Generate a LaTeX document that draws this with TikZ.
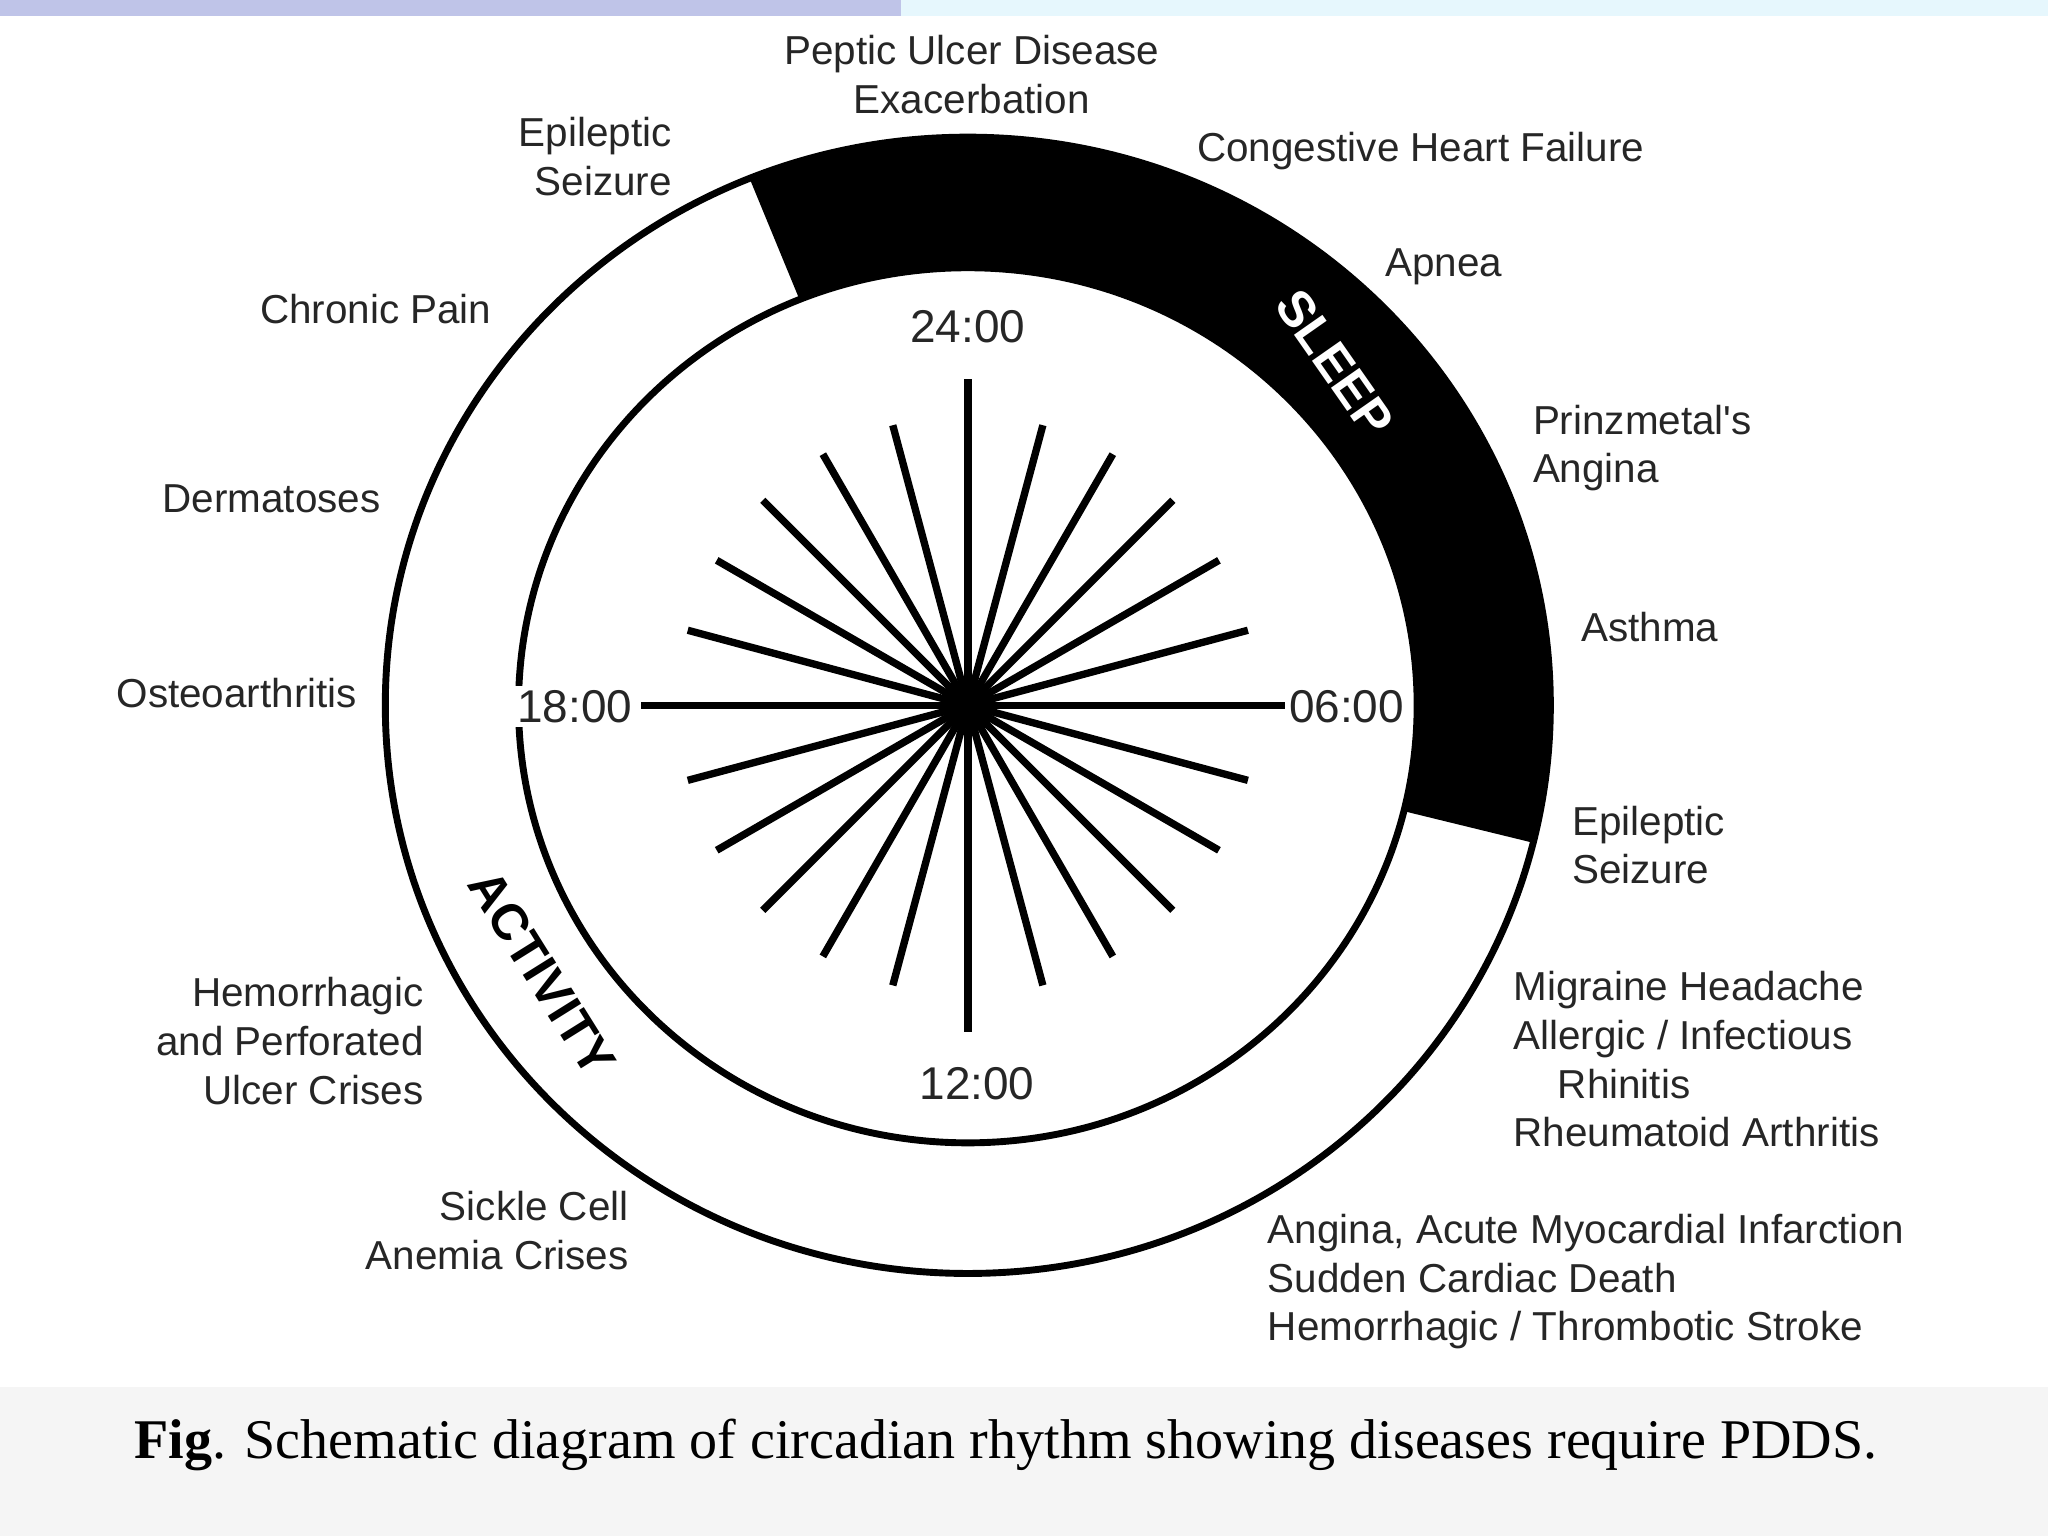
\documentclass[tikz,border=0pt]{standalone}
\usepackage{fontspec}
\usetikzlibrary{calc}
\setmainfont{Liberation Serif}
\newfontfamily\lab{Liberation Sans}
\begin{document}
\begin{tikzpicture}[x=0.01cm,y=-0.01cm,
  lbl/.style={font=\lab\fontsize{8.8}{10.6}\selectfont,text=black!85,align=center,inner sep=0pt},
  spoke/.style={line width=1.6pt},
  band/.style={font=\lab\bfseries\fontsize{11}{13}\selectfont,inner sep=0pt}]
\useasboundingbox (0,0) rectangle (1568,1176);
\fill[white] (0,0) rectangle (1568,1176);
\fill[cyan!30!blue!25] (0,0) rectangle (690,12);
\fill[cyan!10] (690,0) rectangle (1568,12);
\fill[black!4] (0,1062) rectangle (1568,1176);
\coordinate (c) at (741,540);
% black band
\fill[black] ($(c)+(-112:446 and 435)$) arc[start angle=-112,end angle=14,x radius=446,y radius=435]
  -- ($(c)+(14:344 and 335)$) arc[start angle=14,end angle=-112,x radius=344,y radius=335] -- cycle;
\draw[line width=1.5pt] (c) ellipse[x radius=446,y radius=435];
\draw[line width=1.5pt] (c) ellipse[x radius=344,y radius=335];
% spokes
\foreach \a in {0,90,180,270}{\draw[spoke] (c) -- ++(\a:-250);}
\foreach \a in {15,30,...,75,105,120,...,165,195,210,...,255,285,300,...,345}{\draw[spoke] (c) -- ++(\a:222);}
\node[lbl,fill=white,inner sep=1pt] (t24) at (741,250) {\fontsize{10}{12}\selectfont 24:00};
\node[lbl] (t12) at (748,830) {\fontsize{10}{12}\selectfont 12:00};
\node[lbl,fill=white,inner sep=1pt] (t18) at (440,541) {\fontsize{10}{12}\selectfont 18:00};
\node[lbl,fill=white,inner sep=1pt] (t06) at (1031,541) {\fontsize{10}{12}\selectfont 06:00};
\node[band,text=white,rotate=-55] (sleep) at (1022,278) {SLEEP};
\node[band,rotate=-58] (act) at (415,745) {ACTIVITY};
% labels
\node[lbl] (pud) at (744,57) {Peptic Ulcer Disease\\Exacerbation};
\node[lbl,align=right,anchor=east] (es1) at (515,120) {Epileptic\\\hspace*{1em}Seizure};
\node[lbl,anchor=west] (chf) at (916,116) {Congestive Heart Failure};
\node[lbl,anchor=west] (ap) at (1060,204) {Apnea};
\node[lbl,anchor=east] (cp) at (377,237) {Chronic Pain};
\node[lbl,align=left,anchor=west] (pa) at (1173,343) {Prinzmetal's\\Angina};
\node[lbl,anchor=east] (de) at (292,382) {Dermatoses};
\node[lbl,anchor=west] (as) at (1210,480) {Asthma};
\node[lbl,anchor=east] (oa) at (274,531) {Osteoarthritis};
\node[lbl,align=left,anchor=west] (es2) at (1203,647) {Epileptic\\Seizure};
\node[lbl,align=right,anchor=east] (hp) at (325,797) {Hemorrhagic\\and Perforated\\Ulcer Crises};
\node[lbl,align=left,anchor=north west] (mh) at (1158,743) {Migraine Headache\\Allergic / Infectious\\\hspace*{1.1em}Rhinitis\\Rheumatoid Arthritis};
\node[lbl,align=right,anchor=east] (sc) at (482,942) {Sickle Cell\\Anemia Crises};
\node[lbl,align=left,anchor=north west] (am) at (970,929) {Angina, Acute Myocardial Infarction\\Sudden Cardiac Death\\Hemorrhagic / Thrombotic Stroke};
\node[font=\fontsize{12.2}{14}\selectfont,inner sep=0pt] (cap) at (770,1106) {\textbf{Fig}. Schematic diagram of circadian rhythm showing diseases require PDDS.};
\end{tikzpicture}
\end{document}
